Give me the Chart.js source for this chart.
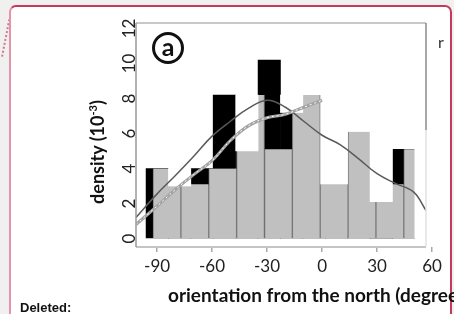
<!DOCTYPE html>
<html>
<head>
<meta charset="utf-8">
<script src="https://cdn.jsdelivr.net/npm/chart.js@4"></script>
<style>
  html, body { margin: 0; padding: 0; }
  body { width: 454px; height: 314px; overflow: hidden; background: #f0f0f0; position: relative; font-family: Lato, "Open Sans", sans-serif; }
  .balloon { position: absolute; left: 9px; top: 5px; width: 439px; height: 330px; background: #fff;
    border: 2px solid #c43a5c; border-left-color: #e494aa; border-radius: 7px; }
  .connector { position: absolute; left: 5px; top: 16px; height: 41px; border-left: 2px dotted #d77792; transform: rotate(11deg); }
  #wrap { position: absolute; left: 0; top: 0; width: 454px; height: 314px; }
  .panel { position: absolute; left: 152px; top: 32px; width: 26px; height: 26px; border: 3px solid #111; border-radius: 50%;
    font: bold 25px Lato, sans-serif; line-height: 22px; text-align: center; color: #111; }
  .xtitle { position: absolute; left: 168px; top: 283px; font: bold 19px Lato, sans-serif; color: #111; white-space: nowrap; }
  .ytitle { position: absolute; left: 32px; top: 141px; width: 130px; text-align: center; font: bold 18px Lato, sans-serif; color: #111;
    transform: rotate(-90deg); white-space: nowrap; }
  .ytitle sup { font-size: 11px; }
  .stray { position: absolute; left: 438px; top: 32px; font: 16px Lato, sans-serif; color: #333; }
  .deleted { position: absolute; left: 20px; top: 300px; font: bold 13px "Liberation Sans", Arial, sans-serif; color: #111; }
</style>
</head>
<body>
<div class="connector"></div>
<div class="balloon"></div>
<div id="wrap"><canvas id="myChart" width="454" height="314"></canvas></div>
<div class="panel">a</div>
<div class="ytitle">density (10<sup>-3</sup>)</div>
<div class="xtitle">orientation from the north (degrees)</div>
<div class="stray">r</div>
<div class="deleted">Deleted:</div>
<script>
"use strict";

// tick labels
const xTicks = [-90, -60, -30, 0, 30, 60];
const yTicks = [0, 2, 4, 6, 8, 10, 12];

// gray histogram (bin centres, degrees) and densities
const grayBins = [-84.6, -69.4, -54.2, -39.0, -23.8, -8.6, 6.6, 21.8, 37.0, 52.2];
const grayDensity = [4.0, 3.1, 4.0, 8.2, 5.1, 8.2, 3.1, 6.1, 3.1, 5.1];

// black histogram, narrower bins
const blackBins = [-89.9, -77.7, -65.5, -53.3, -41.0, -28.8, -16.6, -4.4, 7.9, 20.1, 32.3, 44.5];
const blackDensity = [4.0, 3.0, 4.0, 8.2, 5.0, 10.2, 7.2, 3.0, 3.0, 3.0, 2.0, 5.1];

// white patches left by the overlaid figure (same bins as black, null = none)
const whiteBins = [-89.9, -77.7, -65.5, -53.3, -41.0, -28.8, -16.6, -4.4, 7.9, 20.1, 32.3, 44.5, 56.7];
const whiteLow = [null, 3.0, null, null, 5.0, null, 7.2, null, null, null, 2.1, null, 0];
const whiteHigh = [null, 4.0, null, null, 8.2, null, 8.2, null, null, null, 6.1, null, 5.2];

// density curves (light one is not visible right of 0)
const curveX = [-101.5, -90, -80, -70, -60, -50, -40, -30, -20, -10, 0, 10, 20, 30, 40, 50, 56.7];
const darkCurve = [1.2, 2.55, 3.6, 4.7, 5.85, 6.7, 7.45, 7.9, 7.5, 6.7, 5.9, 5.35, 4.55, 3.7, 3.15, 2.65, 1.6];
const lightCurve = [0.8, 1.85, 2.8, 3.65, 4.45, 5.6, 6.45, 6.9, 7.1, 7.5, 7.9, null, null, null, null, null, null];

const xMin = -101.5, xMax = 56.7;

const pts = (xs, ys) => xs.map((x, i) => ({ x: x, y: ys[i] }));

const framePlugin = {
    id: 'frame',
    afterDatasetsDraw(chart) {
        const { ctx, chartArea: a } = chart;
        ctx.save();
        ctx.lineWidth = 2;
        ctx.strokeStyle = '#c8c8c8';
        ctx.beginPath(); ctx.moveTo(a.left, a.top); ctx.lineTo(a.right, a.top); ctx.stroke();
        ctx.strokeStyle = '#c4c4c4';
        ctx.beginPath(); ctx.moveTo(a.left, a.bottom); ctx.lineTo(a.right, a.bottom); ctx.stroke();
        ctx.lineWidth = 1.5;
        ctx.strokeStyle = '#999';
        ctx.beginPath(); ctx.moveTo(a.left, a.top); ctx.lineTo(a.left, a.bottom); ctx.stroke();
        ctx.strokeStyle = '#8a8a8a';
        ctx.beginPath(); ctx.moveTo(a.right, a.top); ctx.lineTo(a.right, a.top + 107); ctx.stroke();
        ctx.strokeStyle = '#e2e2e2';
        ctx.beginPath(); ctx.moveTo(a.right, a.top + 107); ctx.lineTo(a.right, a.bottom); ctx.stroke();
        ctx.restore();
    }
};

// one hidden x axis per histogram so each keeps its own bin width
function hiddenAxis() {
    return { type: 'linear', min: xMin, max: xMax, offset: false, display: false, grid: { offset: false } };
}

const barStyle = { barPercentage: 1, categoryPercentage: 1, grouped: false };

const ctx = document.getElementById('myChart').getContext('2d');
const myChart = new Chart(ctx, {
    type: 'bar',
    data: {
        datasets: [
            {
                type: 'line', label: 'light dots', data: pts(curveX, lightCurve), xAxisID: 'x',
                borderColor: '#ffffff', borderWidth: 1, borderDash: [2, 3], pointRadius: 0, tension: 0.4, order: 0
            },
            {
                type: 'line', label: 'light', data: pts(curveX, lightCurve), xAxisID: 'x',
                borderColor: '#a3a3a3', borderWidth: 3, pointRadius: 0, tension: 0.4, order: 1
            },
            {
                type: 'line', label: 'dark', data: pts(curveX, darkCurve), xAxisID: 'x',
                borderColor: '#5a5a5a', borderWidth: 1.5, pointRadius: 0, tension: 0.4, order: 2
            },
            Object.assign({
                label: 'white',
                data: whiteBins.map((x, i) => ({ x: x, y: whiteLow[i] === null ? null : [whiteLow[i], whiteHigh[i]] })),
                xAxisID: 'xw', backgroundColor: '#ffffff', borderWidth: 0, order: 3
            }, barStyle),
            Object.assign({
                label: 'gray', data: pts(grayBins, grayDensity), xAxisID: 'xg',
                backgroundColor: '#c0c0c0', borderColor: '#7c7c7c',
                borderWidth: { left: 1, right: 1, top: 0, bottom: 0 }, borderSkipped: false, order: 4
            }, barStyle),
            Object.assign({
                label: 'black', data: pts(blackBins, blackDensity), xAxisID: 'xb',
                backgroundColor: '#000000', borderWidth: 0, order: 5
            }, barStyle)
        ]
    },
    options: {
        responsive: false,
        animation: false,
        devicePixelRatio: 1,
        layout: { padding: { left: 106, right: 28, top: 23, bottom: 33 } },
        plugins: { legend: { display: false }, tooltip: { enabled: false } },
        scales: {
            x: {
                type: 'linear', min: xMin, max: xMax, offset: false,
                afterBuildTicks: axis => { axis.ticks = xTicks.map(v => ({ value: v })); },
                afterFit: axis => { axis.height = 34; },
                border: { display: false },
                grid: { offset: false, drawOnChartArea: false, drawTicks: true, tickLength: 5, color: '#aaa', lineWidth: 1.5 },
                ticks: { autoSkip: false, maxRotation: 0, padding: 4, color: '#222', font: { family: 'Lato', size: 17 } }
            },
            xg: hiddenAxis(),
            xb: hiddenAxis(),
            xw: hiddenAxis(),
            y: {
                type: 'linear', min: -0.486, max: 12.314,
                afterBuildTicks: axis => { axis.ticks = yTicks.map(v => ({ value: v })); },
                afterFit: axis => { axis.width = 30; },
                border: { display: false },
                grid: { drawOnChartArea: false, drawTicks: false },
                ticks: { minRotation: 90, maxRotation: 90, crossAlign: 'center', padding: -3, color: '#222', font: { family: 'Lato', size: 17 } }
            }
        }
    },
    plugins: [framePlugin]
});
</script>
</body>
</html>
